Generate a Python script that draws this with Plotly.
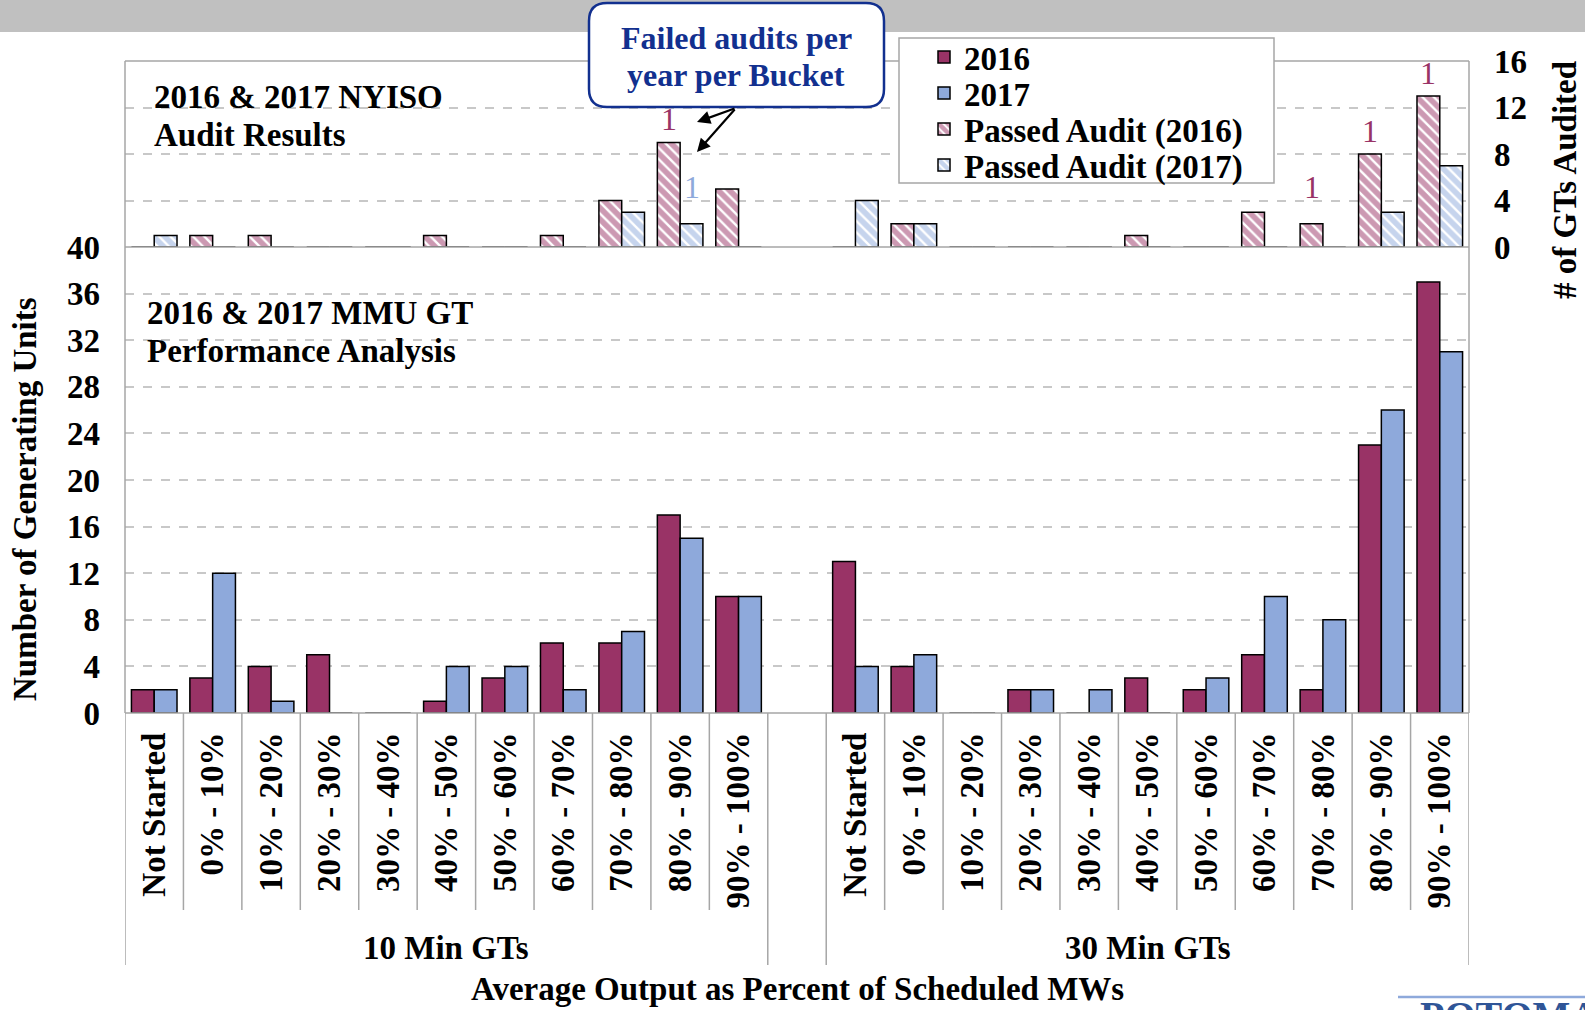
import plotly.graph_objects as go

# ---------------- data ----------------
groups = ["10 Min GTs", "30 Min GTs"]
buckets = ["Not Started", "0% - 10%", "10% - 20%", "20% - 30%", "30% - 40%",
           "40% - 50%", "50% - 60%", "60% - 70%", "70% - 80%", "80% - 90%", "90% - 100%"]

# Number of generating units (bottom panel)
units_2016_10 = [2, 3, 4, 5, 0, 1, 3, 6, 6, 17, 10]
units_2017_10 = [2, 12, 1, 0, 0, 4, 4, 2, 7, 15, 10]
units_2016_30 = [13, 4, 0, 2, 0, 3, 2, 5, 2, 23, 37]
units_2017_30 = [4, 5, 0, 2, 2, 0, 3, 10, 8, 26, 31]

# Passed audits (top panel)
passed_2016_10 = [0, 1, 1, 0, 0, 1, 0, 1, 4, 9, 5]
passed_2017_10 = [1, 0, 0, 0, 0, 0, 0, 0, 3, 2, 0]
passed_2016_30 = [0, 2, 0, 0, 0, 1, 0, 3, 2, 8, 13]
passed_2017_30 = [4, 2, 0, 0, 0, 0, 0, 0, 0, 3, 7]

# Failed audits labels: (group, bucket, year, count)
failed = [("10 Min GTs", "80% - 90%", 2016, 1),
          ("10 Min GTs", "80% - 90%", 2017, 1),
          ("30 Min GTs", "70% - 80%", 2016, 1),
          ("30 Min GTs", "80% - 90%", 2016, 1),
          ("30 Min GTs", "90% - 100%", 2016, 1)]

y_left_ticks = list(range(0, 41, 4))
y_right_ticks = list(range(0, 17, 4))

# ---------------- style ----------------
C16 = "#993366"
C17 = "#8EA9DB"
GRAY = "#A6A6A6"
GRID = "#C8C8C8"
FONT = "Liberation Serif"
BLUE_TXT = "#12308F"
W, H = 1585, 1010
L, R, T, B = 125, 1469, 61, 713  # plot area pixel box
SPLIT = 247
bargap = 0.22
FS = 33

def px(x):
    return (x - L) / (R - L)

def py(y):
    return (B - y) / (B - T)

split_paper = py(SPLIT)
slot = len(buckets) + 1
xpos = [g * slot + i for g in range(len(groups)) for i in range(len(buckets))]

u16 = units_2016_10 + units_2016_30
u17 = units_2017_10 + units_2017_30
p16 = passed_2016_10 + passed_2016_30
p17 = passed_2017_10 + passed_2017_30

bold = dict(family=FONT, size=FS, color="black", weight="bold")

fig = go.Figure()
line = dict(color="black", width=1.5)
fig.add_bar(x=xpos, y=u16, name="2016", marker=dict(color=C16, line=line), yaxis="y", legend="legend")
fig.add_bar(x=xpos, y=u17, name="2017", marker=dict(color=C17, line=line), yaxis="y", legend="legend2")
fig.add_bar(x=xpos, y=p16, name="Passed Audit (2016)", yaxis="y2", legend="legend3",
            marker=dict(color=C16, line=line,
                        pattern=dict(shape="\\", fgcolor=C16, bgcolor="white", size=8, solidity=0.7)))
fig.add_bar(x=xpos, y=p17, name="Passed Audit (2017)", yaxis="y2", legend="legend4",
            marker=dict(color=C17, line=line,
                        pattern=dict(shape="\\", fgcolor=C17, bgcolor="white", size=8, solidity=0.7)))

shapes = []
ann = []

def text(t, x, y, font=bold, xa="center", ya="middle", angle=0):
    ann.append(dict(text=t, x=px(x), y=py(y), xref="paper", yref="paper", showarrow=False,
                    xanchor=xa, yanchor=ya, textangle=angle, font=font))

# gray band at top
shapes.append(dict(type="rect", xref="paper", yref="paper", x0=px(0), x1=px(W),
                   y0=py(32), y1=py(0), fillcolor="#C0C0C0", line=dict(width=0), layer="below"))

# white boxes behind panel texts
shapes.append(dict(type="rect", xref="paper", yref="paper", x0=px(L + 1), x1=px(520),
                   y0=py(152), y1=py(71), fillcolor="white", line=dict(width=0), layer="between"))
shapes.append(dict(type="rect", xref="paper", yref="paper", x0=px(L + 1), x1=px(505),
                   y0=py(369), y1=py(271), fillcolor="white", line=dict(width=0), layer="between"))

# frame
fl = dict(color=GRAY, width=1.5)
shapes.append(dict(type="line", xref="paper", yref="paper", x0=0, x1=1, y0=1, y1=1, line=fl, layer="above"))
shapes.append(dict(type="line", xref="paper", yref="paper", x0=0, x1=1, y0=split_paper, y1=split_paper,
                   line=fl, layer="above"))
shapes.append(dict(type="line", xref="paper", yref="paper", x0=0, x1=1, y0=0, y1=0, line=fl, layer="above"))
shapes.append(dict(type="line", xref="paper", yref="paper", x0=0, x1=0, y0=0, y1=1, line=fl, layer="above"))
shapes.append(dict(type="line", xref="paper", yref="paper", x0=1, x1=1, y0=0, y1=1, line=fl, layer="above"))

# category separators below the axis
for g in range(len(groups)):
    for k in range(len(buckets) + 1):
        xb = g * slot - 0.5 + k
        full = k == 0 or k == len(buckets)
        shapes.append(dict(type="line", xref="x", yref="paper", x0=xb, x1=xb, y0=0,
                           y1=py(965) if full else py(910), line=fl))

# group labels
for g, name in enumerate(groups):
    ann.append(dict(text=name, x=g * slot + (len(buckets) - 1) / 2, xref="x", y=py(948), yref="paper",
                    showarrow=False, font=bold, xanchor="center", yanchor="middle"))

# axis titles
text("Average Output as Percent of Scheduled MWs", 797, 989)
text("Number of Generating Units", 25, 499, angle=-90)
text("# of GTs Audited", 1565, 180, angle=-90)

# panel texts
text("2016 & 2017 NYISO", 152, 97, xa="left")
text("Audit Results", 152, 135, xa="left")
text("2016 & 2017 MMU GT", 145, 313, xa="left")
text("Performance Analysis", 145, 351, xa="left")

# failed-audit labels
half = (1 - bargap) / 4
for grp, bk, yr, cnt in failed:
    gi = groups.index(grp)
    bi = buckets.index(bk)
    xc = gi * slot + bi + (-half if yr == 2016 else half)
    base = (p16 if yr == 2016 else p17)[gi * len(buckets) + bi]
    ann.append(dict(text=str(cnt), x=xc, y=max(base, 3.2) + 2, xref="x", yref="y2", showarrow=False,
                    xanchor="center", yanchor="middle",
                    font=dict(family=FONT, size=32, color=C16 if yr == 2016 else C17)))

# callout box (rounded)
x0, x1, y0, y1 = px(589), px(884), py(107), py(3)
rx, ry = 18 / (R - L), 18 / (B - T)
path = (f"M {x0+rx},{y1} L {x1-rx},{y1} Q {x1},{y1} {x1},{y1-ry} L {x1},{y0+ry} Q {x1},{y0} {x1-rx},{y0} "
        f"L {x0+rx},{y0} Q {x0},{y0} {x0},{y0+ry} L {x0},{y1-ry} Q {x0},{y1} {x0+rx},{y1} Z")
shapes.append(dict(type="path", xref="paper", yref="paper", path=path, fillcolor="white",
                   line=dict(color=BLUE_TXT, width=2.5), layer="above"))
cfont = dict(family=FONT, size=32, color=BLUE_TXT, weight="bold")
text("Failed audits per", 736, 38, font=cfont)
text("year per Bucket", 736, 75, font=cfont)
# arrows
for hx, hy in [(697, 122), (697, 152)]:
    ann.append(dict(text="", x=px(hx), y=py(hy), xref="paper", yref="paper", showarrow=True,
                    ax=736 - hx, ay=108 - hy, arrowhead=2, arrowsize=1.2, arrowwidth=2.2,
                    arrowcolor="black"))

# legend frame
shapes.append(dict(type="rect", xref="paper", yref="paper", x0=px(899), x1=px(1274), y0=py(183), y1=py(38),
                   fillcolor="white", line=dict(color=GRAY, width=1.5), layer="above"))

# logo fragment bottom right
shapes.append(dict(type="line", xref="paper", yref="paper", x0=px(1398), x1=px(W), y0=py(997), y1=py(997),
                   line=dict(color="#8EA9DB", width=2.5)))
ann.append(dict(text="POTOMAC", x=px(1418), y=py(991), xref="paper", yref="paper", xanchor="left",
                yanchor="top", showarrow=False,
                font=dict(family=FONT, size=40, color="#2F5597", weight="bold")))

legend_rows = [57, 93, 129, 165]
legends = {}
for i, yrow in enumerate(legend_rows):
    key = "legend" if i == 0 else f"legend{i+1}"
    legends[key] = dict(x=px(924), y=py(yrow), xanchor="left", yanchor="middle",
                        bgcolor="rgba(0,0,0,0)", borderwidth=0,
                        font=dict(family=FONT, size=FS, weight="bold", color="black"),
                        itemwidth=30, tracegroupgap=0)

fig.update_layout(
    width=W, height=H,
    margin=dict(l=L, r=W - R, t=T, b=H - B),
    paper_bgcolor="white", plot_bgcolor="white",
    barmode="group", bargap=bargap, bargroupgap=0,
    font=dict(family=FONT, size=FS, color="black"),
    shapes=shapes, annotations=ann,
    xaxis=dict(range=[-0.5, len(xpos) + 0.5], tickvals=xpos, ticktext=buckets * len(groups),
               tickangle=-90, showgrid=False, zeroline=False, showline=False, ticks="",
               ticklabelstandoff=12, tickfont=bold, anchor="y"),
    yaxis=dict(domain=[0, split_paper], range=[0, 40], tickvals=y_left_ticks, showgrid=True,
               gridcolor=GRID, griddash="dash", gridwidth=1.5, zeroline=False, showline=False,
               ticks="", ticklabelstandoff=24, tickfont=bold),
    yaxis2=dict(domain=[split_paper, 1], range=[0, 16], tickvals=y_right_ticks, side="right",
                anchor="x", showgrid=True, gridcolor=GRID, griddash="dash", gridwidth=1.5,
                zeroline=False, showline=False, ticks="", ticklabelstandoff=24, tickfont=bold),
    showlegend=True,
    **legends,
)

fig.write_html("out.html", config={"displayModeBar": False},
               post_script="document.body.style.margin='0';document.body.style.overflow='hidden';")
